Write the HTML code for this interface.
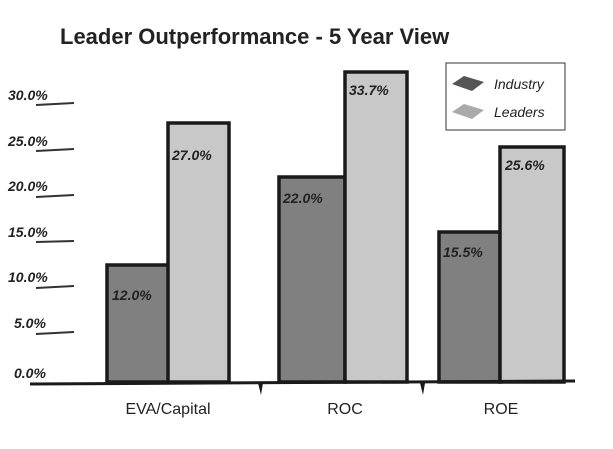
<!DOCTYPE html>
<html><head><style>
body{margin:0;background:#fff;}
svg{display:block}
text{font-family:"Liberation Sans",sans-serif;font-style:italic;fill:#222;}
text.n{font-style:normal;}
</style></head><body>
<svg width="613" height="449" viewBox="0 0 613 449">
<text class="n" x="60" y="44" font-size="22" font-weight="bold">Leader Outperformance - 5 Year View</text>
<g font-size="14" font-weight="bold">
<text x="8" y="100">30.0%</text>
<text x="8" y="146">25.0%</text>
<text x="8" y="191">20.0%</text>
<text x="8" y="237">15.0%</text>
<text x="8" y="282">10.0%</text>
<text x="14" y="328">5.0%</text>
<text x="14" y="378">0.0%</text>
</g>
<g stroke="#333" stroke-width="2">
<line x1="36" y1="105" x2="74" y2="103"/><line x1="36" y1="151" x2="74" y2="149"/>
<line x1="36" y1="197" x2="74" y2="195"/><line x1="36" y1="242" x2="74" y2="241"/>
<line x1="36" y1="288" x2="74" y2="286"/><line x1="36" y1="334" x2="74" y2="332"/>
</g>
<g stroke="#1a1a1a" stroke-width="3.5">
<rect x="107" y="265" width="62" height="117" fill="#808080"/>
<rect x="168" y="123" width="61" height="259" fill="#c8c8c8"/>
<rect x="279" y="177" width="66" height="205" fill="#808080"/>
<rect x="345" y="72" width="62" height="310" fill="#c8c8c8"/>
<rect x="439" y="232" width="61" height="150" fill="#808080"/>
<rect x="500" y="147" width="64" height="235" fill="#c8c8c8"/>
</g>
<path d="M30 384 L575 381" stroke="#1a1a1a" stroke-width="3"/>
<path d="M258 383 l5 0 l-2 12z M420 383 l5 0 l-2 12z" fill="#1a1a1a"/>
<g font-size="14" font-weight="bold">
<text x="112" y="300">12.0%</text><text x="172" y="160">27.0%</text>
<text x="283" y="203">22.0%</text><text x="349" y="95">33.7%</text>
<text x="443" y="257">15.5%</text><text x="505" y="170">25.6%</text>
</g>
<g font-size="16">
<text class="n" x="168" y="414" text-anchor="middle">EVA/Capital</text>
<text class="n" x="345" y="414" text-anchor="middle">ROC</text>
<text class="n" x="501" y="414" text-anchor="middle">ROE</text>
</g>
<rect x="446" y="63" width="119" height="67" fill="#fff" stroke="#333" stroke-width="1"/>
<path d="M452 84 l12 -8 l20 6 l-12 9z" fill="#555"/>
<path d="M452 112 l12 -8 l20 6 l-12 9z" fill="#aaa"/>
<text x="494" y="89" font-size="14">Industry</text>
<text x="494" y="117" font-size="14">Leaders</text>
</svg>
</body></html>
